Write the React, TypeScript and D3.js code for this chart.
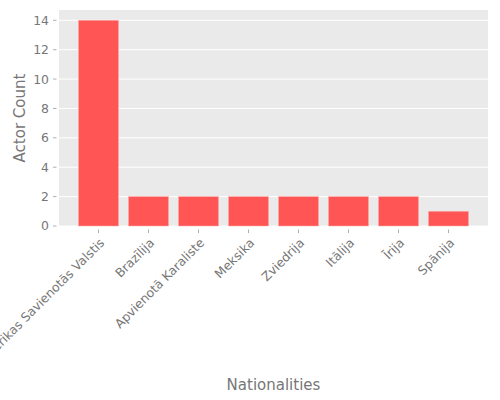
import { useEffect, useRef } from 'react'
import * as d3 from 'd3'

const nationalities = [
  'Amerikas Savienotās Valstis',
  'Brazīlija',
  'Apvienotā Karaliste',
  'Meksika',
  'Zviedrija',
  'Itālija',
  'Īrija',
  'Spānija',
]
const actorCounts = [14, 2, 2, 2, 2, 2, 2, 1]
const yTicks = [0, 2, 4, 6, 8, 10, 12, 14]

const W = 500
const H = 400
const M = { left: 59, right: 12, top: 10, bottom: 174 }
const BAR = '#ff5555'
const INK = '#777777'
const FONT = '"DejaVu Sans", sans-serif'

export default function App() {
  const svgRef = useRef<SVGSVGElement>(null)

  useEffect(() => {
    if (!svgRef.current) return
    const svg = d3.select(svgRef.current)
    svg.selectAll('*').remove()

    const pw = W - M.left - M.right
    const ph = H - M.top - M.bottom

    // bars sit on integer slots, width 0.8, 5% side margins
    const n = nationalities.length
    const pad = 0.05 * (n - 1 + 0.8)
    const x = d3.scaleLinear().domain([-0.4 - pad, n - 1 + 0.4 + pad]).range([M.left, M.left + pw])
    const y = d3.scaleLinear().domain([0, 14.7]).range([M.top + ph, M.top])

    svg.append('rect')
      .attr('x', M.left).attr('y', M.top)
      .attr('width', pw).attr('height', ph)
      .attr('fill', '#eaeaea')

    // horizontal grid only
    svg.append('g')
      .selectAll('line')
      .data(yTicks)
      .join('line')
      .attr('x1', M.left).attr('x2', M.left + pw)
      .attr('y1', d => y(d)).attr('y2', d => y(d))
      .attr('stroke', '#fff').attr('stroke-width', 1)

    svg.append('g')
      .selectAll('rect')
      .data(actorCounts)
      .join('rect')
      .attr('x', (_, i) => x(i - 0.4))
      .attr('width', (_, i) => x(i + 0.4) - x(i - 0.4))
      .attr('y', d => y(d))
      .attr('height', d => y(0) - y(d))
      .attr('fill', BAR)
      .attr('stroke', '#ffaaaa')
      .attr('stroke-width', 0.5)

    const yg = svg.append('g')
    yg.selectAll('line')
      .data(yTicks)
      .join('line')
      .attr('x1', M.left - 6).attr('x2', M.left - 2.5)
      .attr('y1', d => y(d)).attr('y2', d => y(d))
      .attr('stroke', '#999').attr('stroke-width', 0.8)
    yg.selectAll('text')
      .data(yTicks)
      .join('text')
      .attr('x', M.left - 10)
      .attr('y', d => y(d))
      .attr('dy', '0.36em')
      .attr('text-anchor', 'end')
      .attr('fill', INK)
      .attr('font-family', FONT)
      .attr('font-size', 12.4)
      .text(d => d)

    const base = M.top + ph
    const xg = svg.append('g')
    xg.selectAll('line')
      .data(nationalities)
      .join('line')
      .attr('x1', (_, i) => x(i)).attr('x2', (_, i) => x(i))
      .attr('y1', base + 3.5).attr('y2', base + 7)
      .attr('stroke', '#999').attr('stroke-width', 0.8)
    xg.selectAll('text')
      .data(nationalities)
      .join('text')
      .attr('transform', (_, i) => `translate(${x(i)},${base + 11}) rotate(-45)`)
      .attr('dy', '0.76em')
      .attr('text-anchor', 'end')
      .attr('fill', INK)
      .attr('font-family', FONT)
      .attr('font-size', 12.4)
      .text(d => d)

    svg.append('text')
      .attr('x', M.left + pw / 2)
      .attr('y', 390)
      .attr('text-anchor', 'middle')
      .attr('fill', INK)
      .attr('font-family', FONT)
      .attr('font-size', 15)
      .text('Nationalities')
    svg.append('text')
      .attr('transform', `translate(25,${M.top + ph / 2}) rotate(-90)`)
      .attr('text-anchor', 'middle')
      .attr('fill', INK)
      .attr('font-family', FONT)
      .attr('font-size', 15)
      .text('Actor Count')
  }, [])

  return (
    <svg
      ref={svgRef}
      width={W}
      height={H}
      style={{ position: 'absolute', left: 0, top: 0, background: '#fff' }}
    />
  )
}
